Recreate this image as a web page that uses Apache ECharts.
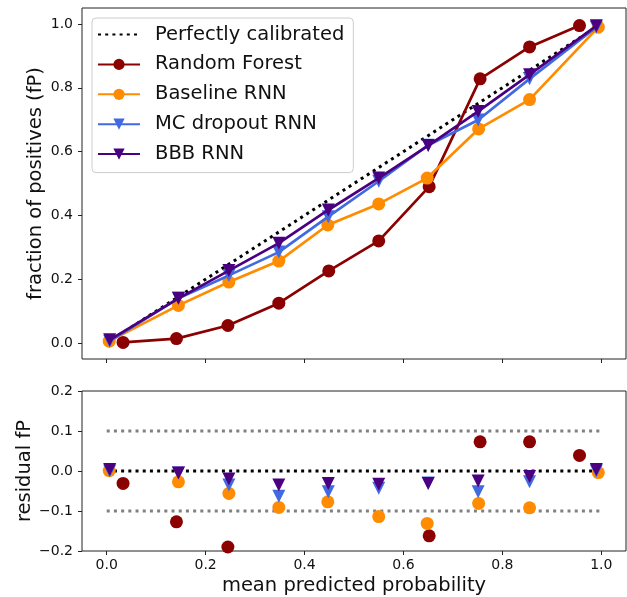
<!DOCTYPE html>
<html>
<head>
<meta charset="utf-8">
<script src="https://cdn.jsdelivr.net/npm/echarts@6/dist/echarts.min.js"></script>
<style>html,body{margin:0;padding:0;background:#fff;}#c{width:627px;height:597px;}</style>
</head>
<body>
<div id="c"></div>
<script>
const seriesNames = ['Perfectly calibrated', 'Random Forest', 'Baseline RNN', 'MC dropout RNN', 'BBB RNN'];
const xTicks = [0, 0.2, 0.4, 0.6, 0.8, 1.0];
const yTicksTop = [0, 0.2, 0.4, 0.6, 0.8, 1.0];
const yTicksBottom = [-0.2, -0.1, 0, 0.1, 0.2];

const rfX = [0.033, 0.141, 0.245, 0.348, 0.449, 0.55, 0.652, 0.755, 0.855, 0.956];
const rfY = [0.002, 0.014, 0.055, 0.125, 0.226, 0.32, 0.49, 0.828, 0.928, 0.995];
const baseX = [0.005, 0.145, 0.247, 0.348, 0.447, 0.55, 0.648, 0.752, 0.855, 0.994];
const baseY = [0.006, 0.118, 0.191, 0.257, 0.37, 0.436, 0.517, 0.671, 0.763, 0.99];
const mcX = [0.006, 0.145, 0.247, 0.348, 0.448, 0.55, 0.65, 0.751, 0.855, 0.99];
const mcY = [0.006, 0.14, 0.212, 0.285, 0.396, 0.507, 0.62, 0.699, 0.828, 0.99];
const bbbX = [0.006, 0.145, 0.247, 0.348, 0.448, 0.55, 0.65, 0.751, 0.855, 0.99];
const bbbY = [0.01, 0.14, 0.227, 0.313, 0.417, 0.517, 0.619, 0.726, 0.841, 0.994];

const colors = ['#000000', '#8B0000', '#FF8C00', '#4169E1', '#4B0082'];
const FONT = 'DejaVu Sans';

function pairs(xs, ys) { return xs.map((x, i) => [x, ys[i]]); }
function resid(xs, ys) { return xs.map((x, i) => [x, ys[i] - x]); }
function fmt(v) { const s = Math.abs(v).toFixed(1); return v < -1e-9 ? '\u2212' + s : s; }

const chart = echarts.init(document.getElementById('c'), null, {renderer: 'canvas'});

const lineSer = (idx, xs, ys, sym, rot) => ({
  name: seriesNames[idx], type: 'line', xAxisIndex: 0, yAxisIndex: 0,
  data: pairs(xs, ys), symbol: sym, symbolSize: 13, symbolRotate: rot || 0,
  showSymbol: true, animation: false, z: 2 + idx,
  itemStyle: {color: colors[idx], opacity: 1},
  lineStyle: {color: colors[idx], width: 2.7},
  emphasis: {disabled: true}
});
const scatSer = (idx, xs, ys, sym, rot) => ({
  name: seriesNames[idx] + ' residual', type: 'scatter', xAxisIndex: 1, yAxisIndex: 1,
  data: resid(xs, ys), symbol: sym, symbolSize: 13, symbolRotate: rot || 0,
  clip: true, animation: false, z: 2 + idx,
  itemStyle: {color: colors[idx], opacity: 1},
  emphasis: {disabled: true}
});
const refLine = (y0, y1, color, name) => ({
  name: name, type: 'line', xAxisIndex: 1, yAxisIndex: 1,
  data: [[0, y0], [1, y1]], symbol: 'none', animation: false, z: 1,
  lineStyle: {color: color, width: 3, type: [3, 4.2]}, emphasis: {disabled: true}
});

const axisCommon = {
  type: 'value', splitLine: {show: false},
  axisLine: {show: false, onZero: false},
  axisTick: {show: true, length: 4, inside: false, lineStyle: {color: '#222', width: 1}},
  axisLabel: {fontFamily: FONT, fontSize: 14, color: '#111', formatter: fmt}
};

chart.setOption({
  backgroundColor: '#fff',
  textStyle: {fontFamily: FONT},
  grid: [
    {left: 82, right: 1, top: 8, height: 351, show: true, borderColor: '#222', borderWidth: 1, backgroundColor: 'transparent'},
    {left: 82, right: 1, top: 391, height: 160, show: true, borderColor: '#222', borderWidth: 1, backgroundColor: 'transparent'}
  ],
  legend: {
    data: [{name: seriesNames[0], itemStyle: {opacity: 0}}].concat(seriesNames.slice(1)),
    orient: 'vertical', left: 92, top: 18,
    itemWidth: 42, itemHeight: 14, itemGap: 8.9,
    padding: [6, 9, 8, 5],
    backgroundColor: 'rgba(255,255,255,0.8)', borderColor: '#cccccc', borderWidth: 1, borderRadius: 4,
    textStyle: {fontFamily: FONT, fontSize: 19.5, color: '#111', lineHeight: 21, padding: [0, 0, 0, 10]},
    selectedMode: false
  },
  xAxis: [
    Object.assign({}, axisCommon, {gridIndex: 0, min: -0.05, max: 1.05,
      axisTick: Object.assign({}, axisCommon.axisTick, {customValues: xTicks}),
      axisLabel: {show: false}}),
    Object.assign({}, axisCommon, {gridIndex: 1, min: -0.05, max: 1.05,
      axisTick: Object.assign({}, axisCommon.axisTick, {customValues: xTicks}),
      axisLabel: Object.assign({}, axisCommon.axisLabel, {customValues: xTicks, margin: 7}),
      name: 'mean predicted probability', nameLocation: 'middle', nameGap: 25, nameMoveOverlap: false,
      nameTextStyle: {fontFamily: FONT, fontSize: 19.5, color: '#111'}})
  ],
  yAxis: [
    Object.assign({}, axisCommon, {gridIndex: 0, min: -0.05, max: 1.05,
      axisTick: Object.assign({}, axisCommon.axisTick, {customValues: yTicksTop}),
      axisLabel: Object.assign({}, axisCommon.axisLabel, {customValues: yTicksTop, margin: 9}),
      name: 'fraction of positives (fP)', nameLocation: 'middle', nameGap: 36, nameMoveOverlap: false,
      nameTextStyle: {fontFamily: FONT, fontSize: 19.5, color: '#111'}}),
    Object.assign({}, axisCommon, {gridIndex: 1, min: -0.2, max: 0.2,
      axisTick: Object.assign({}, axisCommon.axisTick, {customValues: yTicksBottom}),
      axisLabel: Object.assign({}, axisCommon.axisLabel, {customValues: yTicksBottom, margin: 9}),
      name: 'residual fP', nameLocation: 'middle', nameGap: 47, nameMoveOverlap: false,
      nameTextStyle: {fontFamily: FONT, fontSize: 19.5, color: '#111'}})
  ],
  series: [
    {name: seriesNames[0], type: 'line', xAxisIndex: 0, yAxisIndex: 0,
     data: [[0, 0], [1, 1]], symbol: 'none', animation: false, z: 1,
     itemStyle: {color: '#000'},
     lineStyle: {color: '#000', width: 3, type: [3, 4.2]}, emphasis: {disabled: true}},
    lineSer(1, rfX, rfY, 'circle'),
    lineSer(2, baseX, baseY, 'circle'),
    lineSer(3, mcX, mcY, 'triangle', 180),
    lineSer(4, bbbX, bbbY, 'triangle', 180),
    refLine(0.1, 0.1, '#808080', 'upper band'),
    refLine(-0.1, -0.1, '#808080', 'lower band'),
    refLine(0, 0, '#000000', 'zero'),
    scatSer(1, rfX, rfY, 'circle'),
    scatSer(2, baseX, baseY, 'circle'),
    scatSer(3, mcX, mcY, 'triangle', 180),
    scatSer(4, bbbX, bbbY, 'triangle', 180)
  ]
});
</script>
</body>
</html>
